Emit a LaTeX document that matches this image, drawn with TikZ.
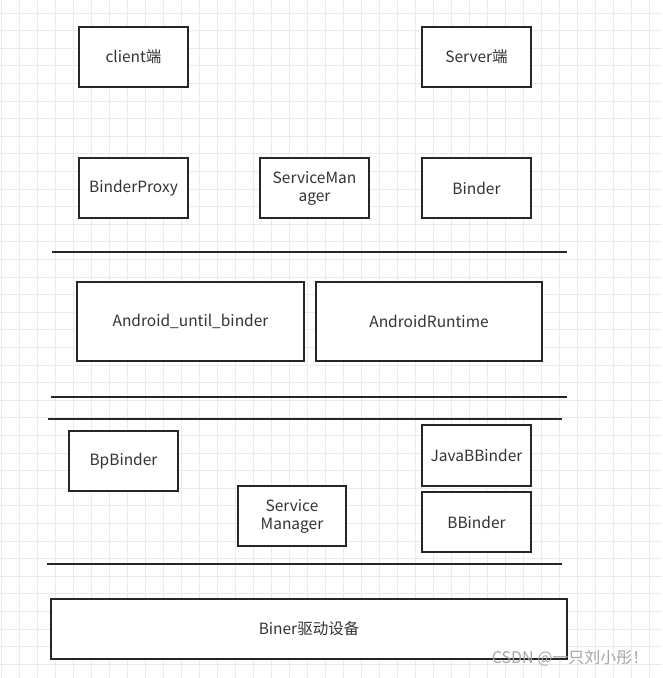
\documentclass[tikz,border=0pt]{standalone}
\usepackage{fontspec}
\setmainfont{Noto Sans CJK SC}
\begin{document}
\begin{tikzpicture}[x=1pt,y=-1pt,
 box/.style={draw=black!85,line width=1.6pt,fill=white,inner sep=0pt,align=center,font=\fontsize{15.5}{18}\selectfont,text=black!80},
 sep/.style={line width=1.6pt,draw=black!85}]
\useasboundingbox (0,0) rectangle (662,678);
\fill[white] (0,0) rectangle (662,678);
\foreach \i in {0,...,37} {\draw[black!8,line width=0.7pt] (1+\i*18,0) -- (1+\i*18,678);}
\foreach \i in {0,...,38} {\draw[black!8,line width=0.7pt] (0,13+\i*17.6) -- (662,13+\i*17.6);}
\newcommand{\bx}[6]{\node[box,minimum width=#4-#2,minimum height=#5-#3] (#1) at ({(#2+#4)/2},{(#3+#5)/2}) {#6};}
\bx{client}{79}{27}{188}{87}{client端}
\bx{server}{422}{27}{531}{87}{Server端}
\bx{proxy}{79}{158}{188}{218}{BinderProxy}
\bx{sm}{260}{158}{369}{218}{ServiceMan\\ager}
\bx{binder}{422}{158}{531}{218}{Binder}
\bx{aub}{77}{282}{304}{361}{Android\_until\_binder}
\bx{ar}{316}{282}{542}{361}{AndroidRuntime}
\bx{bp}{69}{431}{178}{491}{BpBinder}
\bx{sm2}{238}{486}{346}{546}{Service\\Manager}
\bx{jbb}{422}{425}{531}{486}{JavaBBinder}
\bx{bb}{422}{492}{531}{552}{BBinder}
\bx{drv}{51}{599}{567}{659}{Biner驱动设备}
\coordinate (l1a) at (52,252); \coordinate (l1b) at (567,252);
\coordinate (l2a) at (51,397); \coordinate (l2b) at (567,397);
\coordinate (l3a) at (48,419); \coordinate (l3b) at (562,419);
\coordinate (l4a) at (47,564); \coordinate (l4b) at (562,564);
\draw[sep] (l1a)--(l1b); \draw[sep] (l2a)--(l2b); \draw[sep] (l3a)--(l3b); \draw[sep] (l4a)--(l4b);
\node[anchor=east,text=black!35,font=\fontsize{16}{18}\selectfont] (wm) at (652,658) {CSDN @一只刘小彤！};
\end{tikzpicture}
\end{document}
